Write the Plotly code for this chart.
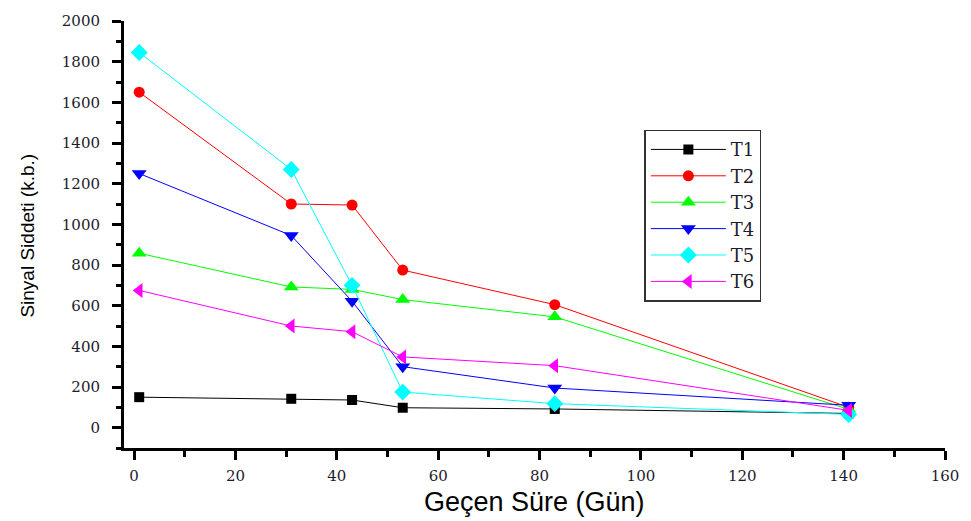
import plotly.graph_objects as go

# Elapsed time (days)
days = [1, 31, 43, 53, 83, 141]

# Signal intensity per sample (arbitrary units)
t1 = [150, 142, 136, 98, 92, 70]
t2 = [1650, 1100, 1095, 775, 605, 100]
t3 = [858, 692, 680, 630, 545, 90]
t4 = [1250, 945, 622, 300, 195, 110]
t5 = [1845, 1270, 700, 175, 118, 65]
t6 = [675, 500, 472, 348, 305, 85]

series_names = ["T1", "T2", "T3", "T4", "T5", "T6"]
series_values = [t1, t2, t3, t4, t5, t6]
colors = ["#000000", "#ff0000", "#00ff00", "#0000ff", "#00ffff", "#ff00ff"]
symbols = ["square", "circle", "triangle-up", "triangle-down", "diamond", "triangle-left"]
sizes = [10, 11, 13, 13, 13, 13]

x_ticks = list(range(0, 161, 20))
y_ticks = list(range(0, 2001, 200))

# Plot area in pixels
W, H = 971, 521
ML, MR, MT, MB = 124, 25, 12, 73
plot_w = W - ML - MR
plot_h = H - MT - MB


def px_x(p):
    return (p - ML) / plot_w


def px_y(p):
    return 1 - (p - MT) / plot_h


fig = go.Figure()
for name, vals, col, sym, sz in zip(series_names, series_values, colors, symbols, sizes):
    fig.add_trace(go.Scatter(
        x=days, y=vals, name=name, mode="lines+markers",
        line=dict(color=col, width=1),
        marker=dict(symbol=sym, size=sz, color=col, line=dict(width=0)),
    ))

tick_font = dict(family="DejaVu Serif", size=15, color="#1c1c2c")
axis_common = dict(
    showgrid=False, zeroline=False,
    showline=True, linecolor="black", linewidth=3,
    ticks="outside", ticklen=9, tickwidth=2.5, tickcolor="black",
    tickfont=tick_font,
)

fig.update_layout(
    width=W, height=H,
    margin=dict(l=ML, r=MR, t=MT, b=MB),
    paper_bgcolor="white", plot_bgcolor="white",
    showlegend=True,
    legend=dict(
        x=px_x(645), y=px_y(123), xanchor="left", yanchor="top",
        font=dict(family="DejaVu Serif", size=18, color="#1c1c2c"),
        bordercolor="#333333", borderwidth=1.5, bgcolor="white",
        itemwidth=75,
    ),
    xaxis=dict(
        range=[-2, 160], tickvals=x_ticks, ticktext=[str(v) for v in x_ticks],
        minor=dict(dtick=10, tick0=0, ticks="outside", ticklen=6, tickwidth=2.5, tickcolor="black"),
        ticklabelstandoff=3,
        **axis_common,
    ),
    yaxis=dict(
        range=[-100, 2000], tickvals=y_ticks, ticktext=[str(v) for v in y_ticks],
        minor=dict(dtick=100, tick0=0, ticks="outside", ticklen=5, tickwidth=2.5, tickcolor="black"),
        ticklabelstandoff=9,
        **axis_common,
    ),
    annotations=[
        dict(text="Geçen Süre (Gün)", xref="paper", yref="paper",
             x=px_x(535), y=px_y(503), xanchor="center", yanchor="middle",
             showarrow=False, font=dict(family="Liberation Sans", size=27, color="black")),
        dict(text="Sinyal Siddeti (k.b.)", xref="paper", yref="paper",
             x=px_x(27), y=px_y(231), xanchor="center", yanchor="middle", textangle=-90,
             showarrow=False, font=dict(family="Liberation Sans", size=19, color="black")),
    ],
)

fig.write_html("out.html")
